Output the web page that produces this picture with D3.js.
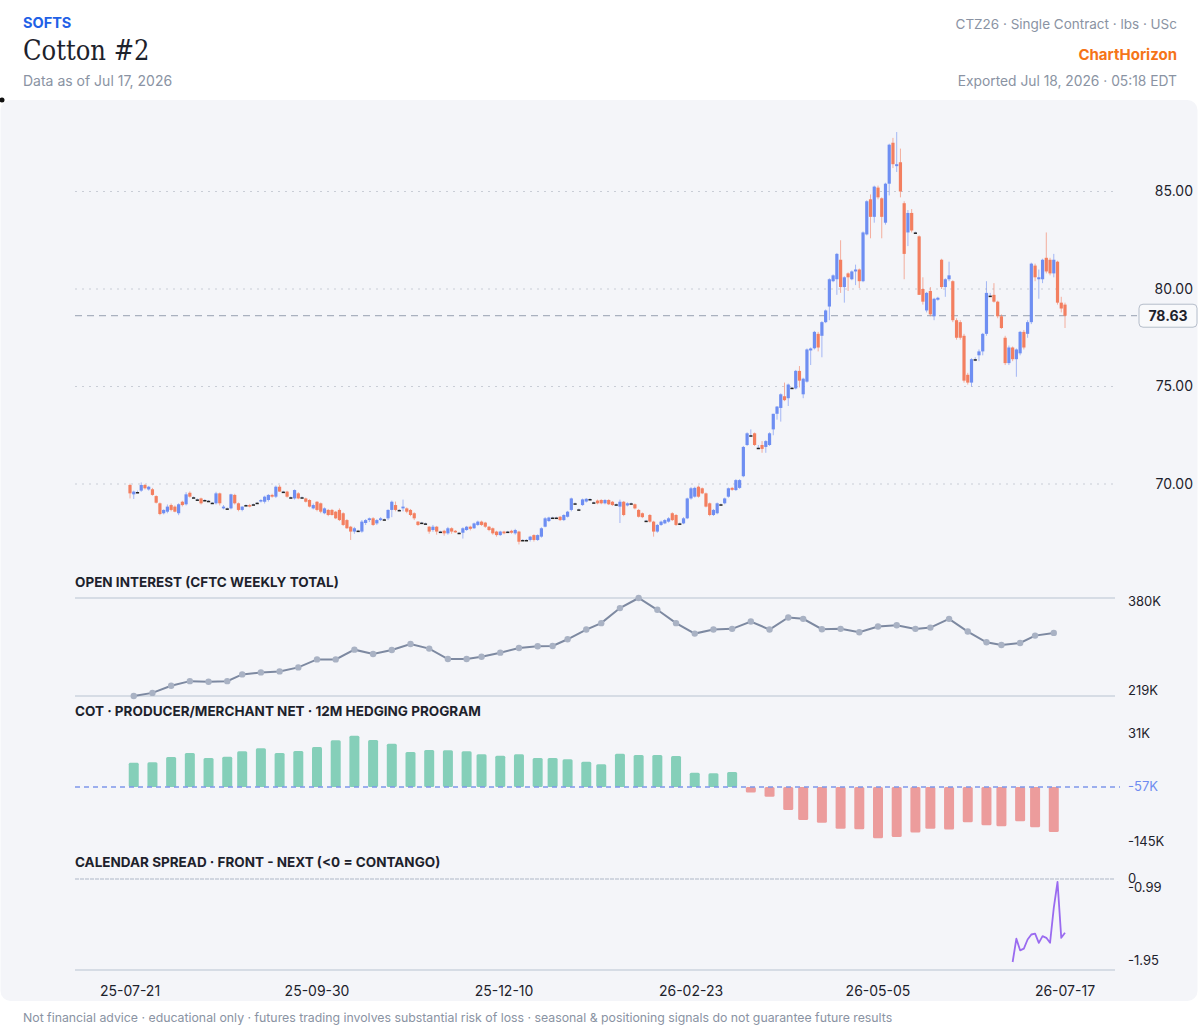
<!DOCTYPE html>
<html>
<head>
<meta charset="utf-8">
<script src="https://cdn.jsdelivr.net/npm/d3@7"></script>
<style>
  body { margin: 0; background: #fff; font-family: Inter, "Noto Sans", sans-serif; }
  svg { display: block; }
  .serif { font-family: "DejaVu Serif", "Liberation Serif", serif; font-stretch: condensed; }
</style>
</head>
<body>
<div id="chart"></div>
<script>
// ---- calendar ----
const startDate = "2025-07-21", endDate = "2026-07-17";
const holidays = ["2025-09-01", "2025-11-27", "2025-12-25", "2026-01-01", "2026-01-19",
                  "2026-04-03", "2026-05-25", "2026-06-19", "2026-07-03"];
const tickEvery = 50;

// ---- daily candles [open, high, low, close], USc/lb ----
const ohlc = [
  [69.95,70.02,69.26,69.52],[69.47,69.66,69.23,69.61],[69.59,69.66,69.52,69.59],[69.66,70.08,69.60,69.95],
  [69.95,70.00,69.72,69.78],[69.72,69.90,69.66,69.86],[69.73,69.80,69.40,69.44],[69.38,69.42,69.00,69.04],
  [69.01,69.05,68.40,68.46],[68.50,68.70,68.44,68.67],[68.58,68.95,68.50,68.84],[68.92,69.00,68.60,68.67],
  [68.84,68.90,68.55,68.58],[68.50,69.01,68.40,68.96],[69.09,69.14,68.85,68.92],[68.96,69.58,68.90,69.47],
  [69.55,69.62,69.30,69.35],[69.32,69.36,69.28,69.32],[69.21,69.26,69.15,69.21],[69.26,69.30,68.95,69.01],
  [69.18,69.22,69.12,69.18],[69.14,69.18,69.08,69.14],[69.04,69.08,68.98,69.04],[69.01,69.60,68.95,69.52],
  [69.52,69.56,68.90,69.01],[68.75,68.92,68.70,68.84],[68.75,68.80,68.70,68.75],[68.75,69.50,68.70,69.47],
  [69.44,69.50,68.95,69.01],[69.01,69.05,68.60,68.67],[68.67,68.86,68.60,68.84],[68.92,68.96,68.88,68.92],
  [68.92,68.98,68.80,68.84],[68.96,69.00,68.92,68.96],[69.04,69.08,69.00,69.04],[69.10,69.22,69.05,69.18],
  [69.09,69.40,69.00,69.35],[69.18,69.48,69.10,69.44],[69.44,69.50,69.30,69.35],[69.35,69.92,69.28,69.86],
  [69.86,69.95,69.60,69.61],[69.61,69.65,69.57,69.61],[69.61,69.65,69.30,69.35],[69.32,69.36,69.28,69.32],
  [69.26,69.72,69.20,69.69],[69.52,69.58,69.22,69.26],[69.32,69.36,69.28,69.32],[69.26,69.30,69.05,69.09],
  [69.18,69.22,68.80,68.84],[68.75,69.00,68.70,68.92],[69.09,69.12,68.60,68.67],[69.01,69.05,68.50,68.58],
  [68.50,68.80,68.45,68.75],[68.67,68.72,68.35,68.41],[68.67,68.72,68.38,68.41],[68.58,68.62,68.20,68.24],
  [68.67,68.75,68.10,68.15],[68.50,68.55,67.85,67.90],[68.15,68.20,67.70,67.73],[67.81,67.85,67.13,67.56],
  [67.56,67.80,67.45,67.73],[67.61,67.65,67.57,67.61],[67.56,68.15,67.50,68.07],[68.00,68.20,67.90,68.15],
  [68.15,68.28,68.05,68.24],[68.24,68.30,67.85,67.90],[67.98,68.20,67.90,68.15],[68.15,68.30,68.10,68.24],
  [68.19,68.23,68.15,68.19],[68.24,68.70,68.15,68.67],[68.67,69.15,68.30,69.09],[68.92,69.10,68.60,68.67],
  [68.67,68.71,68.63,68.67],[68.75,69.20,68.60,68.84],[68.75,68.80,68.50,68.58],[68.67,68.72,68.35,68.41],
  [68.50,68.55,68.15,68.24],[68.07,68.10,67.85,67.90],[68.02,68.06,67.98,68.02],[67.98,68.02,67.94,67.98],
  [67.81,67.85,67.45,67.56],[67.64,67.90,67.55,67.81],[67.81,67.85,67.40,67.56],[67.56,67.60,67.52,67.56],
  [67.60,67.65,67.35,67.47],[67.47,67.80,67.40,67.73],[67.73,67.78,67.45,67.56],[67.60,67.64,67.50,67.52],
  [67.50,67.54,67.46,67.50],[67.50,67.78,67.20,67.73],[67.64,67.85,67.60,67.81],[67.81,67.86,67.62,67.70],
  [67.73,68.02,67.70,67.98],[67.90,68.12,67.85,68.07],[68.07,68.12,67.85,67.90],[68.02,68.06,67.75,67.81],
  [67.81,67.85,67.58,67.64],[67.73,67.77,67.40,67.47],[67.56,67.60,67.30,67.38],[67.38,67.60,67.34,67.56],
  [67.56,67.60,67.42,67.47],[67.56,67.60,67.52,67.56],[67.60,67.65,67.45,67.50],[67.47,67.70,67.40,67.64],
  [67.56,67.60,66.90,67.04],[67.13,67.17,67.09,67.13],[67.13,67.17,67.09,67.13],[67.13,67.34,67.05,67.30],
  [67.38,67.42,67.05,67.13],[67.13,67.42,67.08,67.38],[67.30,67.78,67.25,67.73],[67.81,68.30,67.78,68.24],
  [68.10,68.32,68.05,68.28],[68.28,68.32,68.24,68.28],[68.28,68.32,68.24,68.28],[68.32,68.36,68.10,68.15],
  [68.15,68.45,68.10,68.41],[68.32,68.62,68.28,68.58],[68.67,69.30,68.60,69.26],[69.01,69.05,68.97,69.01],
  [68.70,68.74,68.66,68.70],[68.92,69.25,68.88,69.21],[69.10,69.28,69.05,69.24],[69.23,69.27,69.19,69.23],
  [69.06,69.10,69.02,69.06],[69.15,69.20,68.96,69.01],[69.18,69.22,68.96,69.01],[69.01,69.22,68.96,69.18],
  [69.18,69.22,68.92,68.96],[69.09,69.13,68.88,68.92],[68.96,69.00,68.92,68.96],[68.84,69.20,68.00,69.09],
  [69.09,69.13,68.35,68.41],[68.90,69.06,68.85,69.01],[69.01,69.05,68.97,69.01],[68.96,69.00,68.70,68.75],
  [68.67,68.72,68.28,68.32],[68.50,68.54,68.25,68.30],[68.12,68.16,68.08,68.12],[68.41,68.46,68.02,68.07],
  [68.07,68.11,67.30,67.56],[67.56,67.95,67.50,67.90],[67.90,68.12,67.85,68.07],[67.98,68.20,67.94,68.15],
  [68.07,68.30,68.02,68.24],[68.50,68.55,68.10,68.15],[68.41,68.46,67.85,67.90],[67.98,68.02,67.94,67.98],
  [67.98,68.30,67.94,68.24],[68.24,69.30,68.20,69.26],[69.26,69.84,69.20,69.78],[69.35,69.86,69.30,69.80],
  [69.86,69.92,69.30,69.35],[69.78,69.82,69.48,69.52],[69.52,69.56,68.80,68.84],[69.01,69.05,68.35,68.41],
  [68.41,68.72,68.36,68.67],[68.50,69.05,68.45,69.01],[68.96,69.00,68.92,68.96],[69.01,69.30,68.96,69.26],
  [69.35,69.82,69.30,69.78],[69.80,69.85,69.65,69.70],[69.69,70.25,69.64,70.20],[69.80,70.25,69.75,70.20],
  [70.40,71.95,70.35,71.90],[72.00,72.65,71.95,72.60],[72.50,72.80,72.46,72.50],[72.60,72.64,71.95,72.00],
  [71.86,72.00,71.82,71.86],[72.00,72.20,71.60,71.80],[71.90,72.25,71.60,72.20],[72.00,72.65,71.95,72.60],
  [72.80,73.60,72.50,73.60],[73.60,74.00,73.30,73.97],[73.90,74.65,73.20,74.60],[74.50,75.20,74.25,74.30],
  [74.40,75.15,74.00,75.10],[74.94,74.98,74.90,74.94],[74.90,75.85,74.85,75.80],[75.80,76.05,74.95,75.30],
  [74.60,75.45,74.40,75.40],[75.25,76.95,75.20,76.90],[76.85,77.00,76.10,76.95],[76.96,77.85,76.90,77.80],
  [77.70,77.80,76.80,77.00],[77.60,78.35,76.50,78.30],[78.30,78.95,78.25,78.90],[79.10,80.55,78.40,80.50],
  [80.40,80.75,80.35,80.70],[80.50,81.85,79.70,81.80],[81.50,82.50,79.80,80.10],[80.10,80.65,79.30,80.60],
  [80.80,80.85,79.90,80.60],[80.50,80.95,80.45,80.90],[80.90,81.25,80.20,81.00],[81.00,81.05,80.05,80.40],
  [80.40,82.95,80.35,82.90],[82.80,84.55,82.75,84.50],[84.60,84.85,82.60,83.70],[83.70,85.30,83.40,85.25],
  [85.20,85.30,84.60,84.70],[84.65,84.70,82.60,83.70],[83.40,85.45,83.30,85.40],[85.40,87.45,84.80,87.40],
  [87.50,87.75,86.20,86.40],[86.30,88.05,86.00,86.40],[86.50,87.20,84.70,85.00],[84.40,84.50,80.50,81.80],
  [82.90,84.05,82.20,83.90],[83.90,84.10,82.90,83.00],[82.90,82.94,82.86,82.90],[82.70,82.75,79.70,79.70],
  [80.00,80.60,79.20,79.35],[78.90,79.85,78.80,79.80],[79.90,80.10,78.60,78.70],[78.60,79.55,78.40,79.50],
  [79.45,79.60,79.40,79.55],[81.50,81.55,80.00,80.10],[80.10,80.55,79.60,80.50],[80.50,81.40,80.40,80.70],
  [80.40,80.45,78.30,78.40],[78.40,78.50,77.40,77.50],[78.30,78.40,77.40,77.50],[77.60,77.70,75.20,75.30],
  [75.60,75.70,75.10,75.20],[75.20,76.45,75.00,76.40],[76.40,76.50,76.30,76.40],[76.60,76.90,76.30,76.80],
  [76.80,77.75,76.60,77.70],[77.70,80.40,77.60,79.80],[79.66,79.80,79.62,79.66],[79.70,80.30,79.30,79.35],
  [79.35,79.40,78.50,78.60],[78.60,78.70,77.95,78.00],[77.50,77.60,76.10,76.20],[76.20,77.10,76.10,77.00],
  [77.00,77.05,76.30,76.40],[76.40,76.95,75.50,76.90],[76.70,77.85,76.60,77.80],[77.80,77.90,76.90,77.00],
  [77.70,78.40,77.50,78.30],[78.30,81.35,78.20,81.30],[81.20,81.30,80.40,80.60],[80.50,81.00,79.50,80.60],
  [80.50,81.55,80.30,81.50],[81.60,82.90,80.80,80.90],[81.50,81.60,80.70,80.80],[80.80,81.80,80.60,81.50],
  [81.40,81.45,79.20,79.30],[79.30,79.60,78.80,79.00],[79.20,79.30,78.00,78.63]
];
const priceTicks = [70, 75, 80, 85];

// ---- weekly CFTC (Tuesdays) ----
const openInterest = [
  219300, 224400, 236000, 243600, 242500, 243600, 254600, 257900, 259500, 266100,
  279200, 279200, 295100, 288000, 294600, 304400, 296800, 279800, 279800, 283600,
  290200, 297900, 300600, 301100, 312100, 328000, 338500, 363100, 379600, 360300,
  338500, 321400, 328000, 329100, 341200, 328000, 347700, 345500, 328600, 329100,
  323600, 332900, 335100, 329100, 331200, 345500, 324700, 307200, 302800, 306100,
  318100, 322500
];
const producerNet = [
  -15300, -14700, -5600, 1300, -7300, -5000, 4200, 9300, 1300, 4700,
  11600, 23000, 31000, 23600, 17300, 3000, 6400, 5900, 4200, -1000,
  -3300, -1000, -7300, -7300, -9600, -13600, -18100, 100, -2100, -2100,
  -3800, -32400, -33600, -31300, -66700, -73600, -96500, -113600, -118200, -128500,
  -129600, -145100, -142800, -135300, -128500, -130200, -117600, -122800, -124500, -115900,
  -126200, -134200
];

// ---- calendar spread, front - next (daily, last sessions only) ----
const spreadFirstDay = 236;
const spreadValues = [-1.95, -1.67, -1.81, -1.79, -1.68, -1.62, -1.61, -1.72, -1.64, -1.66,
                      -1.72, -1.30, -0.99, -1.66, -1.60];

// ---------------------------------------------------------------
const width = 1200, height = 1036;
const left = 75, right = 1115;
const upColor = "#6e8ef2", downColor = "#f37f60";
const ink = "#1d222c", muted = "#8a93a3";

const iso = d3.utcFormat("%Y-%m-%d");
const days = d3.utcDays(new Date(startDate), d3.utcDay.offset(new Date(endDate), 1))
  .filter(d => d.getUTCDay() % 6 !== 0 && !holidays.includes(iso(d)));

const candles = days.map((d, i) => ({
  date: d, i,
  o: ohlc[i][0], h: Math.max(...ohlc[i]), l: Math.min(...ohlc[i]), c: ohlc[i][3]
}));
const weeks = days.map((d, i) => ({d, i})).filter(e => e.d.getUTCDay() === 2);

const x = d3.scaleLinear().domain([0, days.length - 1]).range([130, 1065]);
const y = d3.scaleLinear().domain([70, 85]).range([484, 191.5]);

const svg = d3.select("#chart").append("svg")
    .attr("width", width)
    .attr("height", height)
    .attr("font-family", "Inter, 'Noto Sans', sans-serif");

// header
svg.append("text").attr("x", 23).attr("y", 28).attr("fill", "#2160e6")
    .attr("font-size", 14.5).attr("font-weight", 700).text("SOFTS");
svg.append("text").attr("class", "serif").attr("x", 23).attr("y", 60).attr("fill", ink)
    .attr("font-size", 27).text("Cotton #2");
svg.append("text").attr("x", 23).attr("y", 86).attr("fill", muted)
    .attr("font-size", 14).text("Data as of Jul 17, 2026");

const hr = svg.append("g").attr("text-anchor", "end");
hr.append("text").attr("x", 1177).attr("y", 29).attr("fill", muted)
    .attr("font-size", 13.5).text("CTZ26 · Single Contract · lbs · USc");
hr.append("text").attr("x", 1177).attr("y", 60).attr("fill", "#f57418")
    .attr("font-size", 15).attr("font-weight", 700).text("ChartHorizon");
hr.append("text").attr("x", 1177).attr("y", 86).attr("fill", muted)
    .attr("font-size", 13.8).text("Exported Jul 18, 2026 · 05:18 EDT");

// panel
svg.append("rect").attr("x", 0.5).attr("y", 100).attr("width", 1197).attr("height", 901)
    .attr("rx", 10).attr("fill", "#f4f5f9");
svg.append("circle").attr("cx", 2).attr("cy", 100).attr("r", 2.5).attr("fill", "#111");

// ---- price panel ----
const grid = svg.append("g");
grid.selectAll("line").data(priceTicks).join("line")
    .attr("x1", left).attr("x2", right)
    .attr("y1", d => y(d)).attr("y2", d => y(d))
    .attr("stroke", "#c9cdd6").attr("stroke-dasharray", "2,5");
grid.selectAll("text").data(priceTicks).join("text")
    .attr("x", 1193).attr("y", d => y(d)).attr("dy", "0.35em")
    .attr("text-anchor", "end").attr("font-size", 14).attr("fill", ink)
    .text(d => d.toFixed(2));

const last = candles[candles.length - 1].c;
svg.append("line").attr("x1", left).attr("x2", 1137)
    .attr("y1", y(last)).attr("y2", y(last))
    .attr("stroke", "#a9b1bf").attr("stroke-width", 1.2).attr("stroke-dasharray", "7,5");
svg.append("rect").attr("x", 1139).attr("y", y(last) - 11.5).attr("width", 58).attr("height", 23)
    .attr("rx", 4).attr("fill", "#f8f9fb").attr("stroke", "#b5bdca");
svg.append("text").attr("x", 1168).attr("y", y(last)).attr("dy", "0.35em")
    .attr("text-anchor", "middle").attr("font-size", 14).attr("font-weight", 700)
    .attr("fill", ink).text(last.toFixed(2));

const colorOf = d => Math.abs(d.c - d.o) < 0.005 ? "#222" : d.c > d.o ? upColor : downColor;
const cg = svg.append("g");
cg.selectAll("line").data(candles).join("line")
    .attr("x1", d => x(d.i)).attr("x2", d => x(d.i))
    .attr("y1", d => y(d.h)).attr("y2", d => y(d.l))
    .attr("stroke", d => d.c >= d.o ? upColor : downColor)
    .attr("stroke-opacity", 0.6).attr("stroke-width", 1);
cg.selectAll("rect").data(candles).join("rect")
    .attr("x", d => x(d.i) - 1.6)
    .attr("width", 3.2)
    .attr("y", d => y(Math.max(d.o, d.c)))
    .attr("height", d => Math.max(1.5, Math.abs(y(d.o) - y(d.c))))
    .attr("fill", colorOf);

// ---- open interest ----
const oiY = d3.scaleLinear().domain(d3.extent(openInterest)).range([696, 598]);
const kFmt = v => Math.round(v / 1000) + "K";
const panelTitle = (ty, t) => svg.append("text").attr("x", left).attr("y", ty)
    .attr("font-size", 13.5).attr("font-weight", 700).attr("fill", ink)
    .text(t);

panelTitle(587, "OPEN INTEREST (CFTC WEEKLY TOTAL)");
svg.append("g").selectAll("line").data(oiY.domain()).join("line")
    .attr("x1", left).attr("x2", right)
    .attr("y1", d => oiY(d)).attr("y2", d => oiY(d))
    .attr("stroke", "#ccd3de").attr("stroke-width", 1.3);
const oiPts = weeks.map((w, k) => ({i: w.i, v: openInterest[k]}));
svg.append("path").datum(oiPts)
    .attr("fill", "none").attr("stroke", "#7d89a1").attr("stroke-width", 2)
    .attr("d", d3.line().x(d => x(d.i)).y(d => oiY(d.v)));
svg.append("g").selectAll("circle").data(oiPts).join("circle")
    .attr("cx", d => x(d.i)).attr("cy", d => oiY(d.v)).attr("r", 3.2)
    .attr("fill", "#a9b2c4");
const [oiMin, oiMax] = oiY.domain();
svg.append("text").attr("x", 1128).attr("y", oiY(oiMax) + 3).attr("dy", "0.35em")
    .attr("font-size", 13).attr("fill", ink).text(kFmt(oiMax));
svg.append("text").attr("x", 1128).attr("y", oiY(oiMin) - 6).attr("dy", "0.35em")
    .attr("font-size", 13).attr("fill", ink).text(kFmt(oiMin));

// ---- COT producer / merchant net ----
panelTitle(716, "COT · PRODUCER/MERCHANT NET · 12M HEDGING PROGRAM");
const [cotMin, cotMax] = d3.extent(producerNet);
const cotMid = (cotMin + cotMax) / 2;
const cotY = d3.scaleLinear().domain([cotMin, cotMax]).range([838.3, 735.7]);
const cotPts = weeks.map((w, k) => ({i: w.i, v: producerNet[k]}));
svg.append("g").selectAll("rect").data(cotPts).join("rect")
    .attr("x", d => x(d.i) - 5).attr("width", 10)
    .attr("y", d => Math.min(cotY(d.v), cotY(cotMid)))
    .attr("height", d => Math.abs(cotY(d.v) - cotY(cotMid)))
    .attr("rx", 1.5)
    .attr("fill", d => d.v >= cotMid ? "#85cfb9" : "#ec9c9c");
svg.append("line").attr("x1", left).attr("x2", 1120)
    .attr("y1", cotY(cotMid)).attr("y2", cotY(cotMid))
    .attr("stroke", "#7e96ea").attr("stroke-width", 1.4).attr("stroke-dasharray", "5,4");
svg.append("text").attr("x", 1128).attr("y", cotY(cotMax) - 2).attr("dy", "0.35em")
    .attr("font-size", 13).attr("fill", ink).text(kFmt(cotMax));
svg.append("text").attr("x", 1128).attr("y", cotY(cotMid) - 1).attr("dy", "0.35em")
    .attr("font-size", 13).attr("fill", "#6f8cf0").text(kFmt(cotMid));
svg.append("text").attr("x", 1128).attr("y", cotY(cotMin) + 3).attr("dy", "0.35em")
    .attr("font-size", 13).attr("fill", ink).text(kFmt(cotMin));

// ---- calendar spread ----
panelTitle(867, "CALENDAR SPREAD · FRONT - NEXT (<0 = CONTANGO)");
const [spMin, spMax] = d3.extent(spreadValues);
const spY = d3.scaleLinear().domain([spMin, spMax]).range([962, 882]);
const spTop = 879, spBottom = 970;
const zeroY = Math.max(spTop, spY(0));
svg.append("line").attr("x1", left).attr("x2", right).attr("y1", zeroY).attr("y2", zeroY)
    .attr("stroke", "#c5ccd8").attr("stroke-width", 1.5).attr("stroke-dasharray", "4,1");
svg.append("line").attr("x1", left).attr("x2", right).attr("y1", spBottom).attr("y2", spBottom)
    .attr("stroke", "#ccd3de").attr("stroke-width", 1.5);
const spPts = spreadValues.map((v, k) => ({i: spreadFirstDay + k, v}));
svg.append("path").datum(spPts)
    .attr("fill", "none").attr("stroke", "#9a6bf0").attr("stroke-width", 1.8)
    .attr("stroke-linejoin", "round")
    .attr("d", d3.line().x(d => x(d.i)).y(d => spY(d.v)));
svg.append("text").attr("x", 1128).attr("y", zeroY - 1).attr("dy", "0.35em")
    .attr("font-size", 13).attr("fill", ink).text("0");
svg.append("text").attr("x", 1128).attr("y", spY(spMax) + 5).attr("dy", "0.35em")
    .attr("font-size", 13).attr("fill", ink).text(spMax.toFixed(2));
svg.append("text").attr("x", 1128).attr("y", spY(spMin) - 2).attr("dy", "0.35em")
    .attr("font-size", 13).attr("fill", ink).text(spMin.toFixed(2));

// ---- x axis ----
const tickIdx = d3.range(0, days.length, tickEvery);
const fmtTick = d3.utcFormat("%y-%m-%d");
svg.append("g").selectAll("text").data(tickIdx).join("text")
    .attr("x", d => x(d)).attr("y", 991).attr("dy", "0.35em")
    .attr("text-anchor", "middle").attr("font-size", 14).attr("fill", ink)
    .text(d => fmtTick(days[d]));

// footer
svg.append("text").attr("x", 23).attr("y", 1018).attr("dy", "0.35em")
    .attr("font-size", 12.3).attr("fill", muted)
    .text("Not financial advice · educational only · futures trading involves substantial risk of loss · seasonal & positioning signals do not guarantee future results");
</script>
</body>
</html>
